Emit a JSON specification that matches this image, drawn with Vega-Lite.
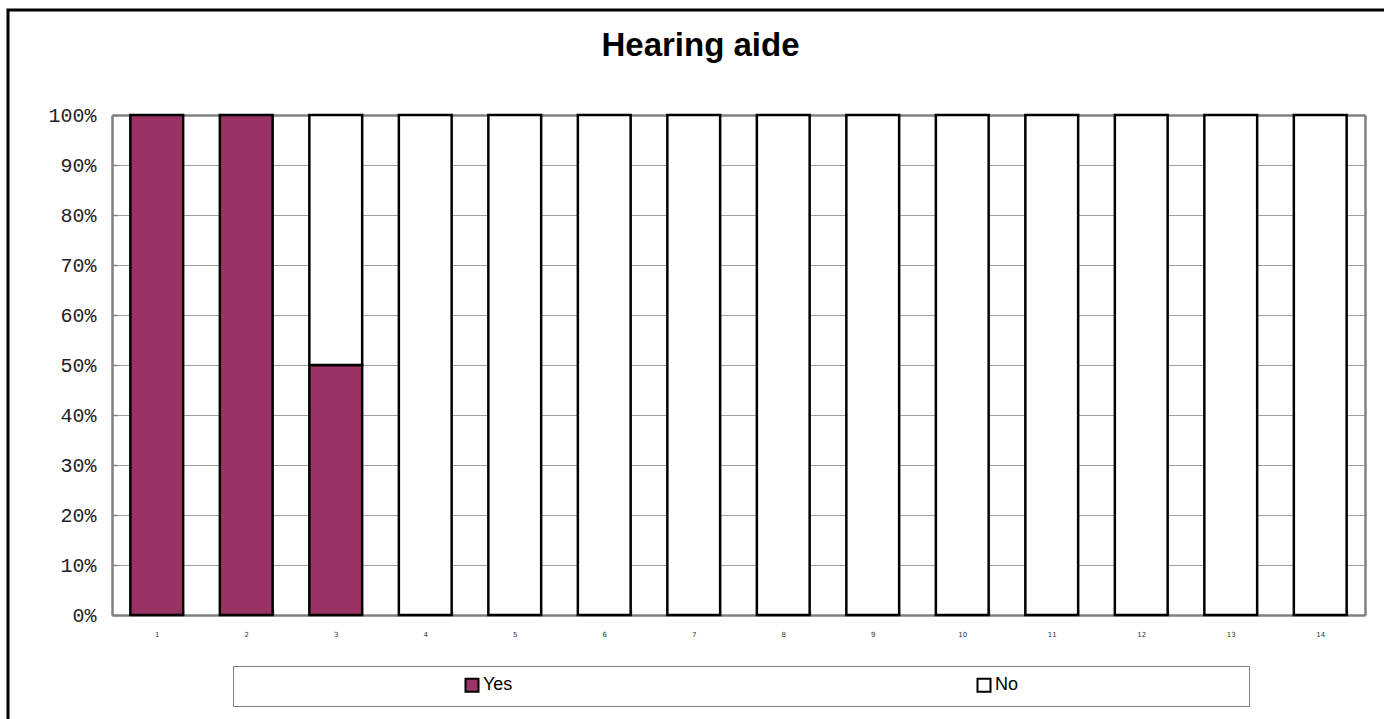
{
  "$schema": "https://vega.github.io/schema/vega-lite/v6.json",
  "width": 1385,
  "height": 720,
  "autosize": {"type": "none"},
  "padding": {"left": 8, "top": 10, "right": 0, "bottom": 0},
  "background": "white",
  "config": {
    "view": {"stroke": "black", "strokeWidth": 3, "fill": "white"}
  },
  "title": {
    "text": "Hearing aide",
    "font": "Liberation Sans",
    "fontSize": 33,
    "fontWeight": "bold",
    "color": "black",
    "anchor": "middle",
    "frame": "group",
    "baseline": "alphabetic",
    "offset": -79
  },
  "data": {
    "values": [
      {"q": 1, "answer": "Yes", "count": 1},
      {"q": 2, "answer": "Yes", "count": 1},
      {"q": 3, "answer": "Yes", "count": 1},
      {"q": 3, "answer": "No", "count": 1},
      {"q": 4, "answer": "No", "count": 1},
      {"q": 5, "answer": "No", "count": 1},
      {"q": 6, "answer": "No", "count": 1},
      {"q": 7, "answer": "No", "count": 1},
      {"q": 8, "answer": "No", "count": 1},
      {"q": 9, "answer": "No", "count": 1},
      {"q": 10, "answer": "No", "count": 1},
      {"q": 11, "answer": "No", "count": 1},
      {"q": 12, "answer": "No", "count": 1},
      {"q": 13, "answer": "No", "count": 1},
      {"q": 14, "answer": "No", "count": 1}
    ]
  },
  "layer": [
    {
      "mark": {"type": "bar", "stroke": "black", "strokeWidth": 2.5},
      "encoding": {
        "x": {
          "field": "q",
          "type": "ordinal",
          "scale": {"range": [104, 1357], "paddingInner": 0.41, "paddingOuter": 0.205},
          "axis": {
            "orient": "bottom",
            "offset": -115,
            "title": null,
            "labelAngle": 0,
            "tickBand": "extent",
            "tickSize": -5,
            "tickColor": "#808080",
            "tickWidth": 1.5,
            "domainColor": "#808080",
            "domainWidth": 2.5,
            "labelFont": "DejaVu Sans",
            "labelFontSize": 7,
            "labelColor": "#333333",
            "labelPadding": 20,
            "grid": false
          }
        },
        "y": {
          "field": "count",
          "type": "quantitative",
          "stack": "normalize",
          "scale": {"range": [605, 105]},
          "axis": {
            "orient": "left",
            "offset": -104,
            "title": null,
            "format": "%",
            "values": [0, 0.1, 0.2, 0.3, 0.4, 0.5, 0.6, 0.7, 0.8, 0.9, 1],
            "grid": true,
            "gridColor": "#a0a0a0",
            "gridWidth": 1,
            "domainColor": "#808080",
            "domainWidth": 2.5,
            "tickColor": "#808080",
            "tickWidth": 1.5,
            "tickSize": -5,
            "labelFont": "Liberation Mono",
            "labelFontSize": 20,
            "labelColor": "#222222",
            "labelPadding": 21
          }
        },
        "color": {
          "field": "answer",
          "type": "nominal",
          "sort": ["Yes", "No"],
          "scale": {"domain": ["Yes", "No"], "range": ["#993366", "#ffffff"]},
          "legend": {
            "orient": "none",
            "legendX": 225,
            "legendY": 656,
            "direction": "horizontal",
            "title": " ",
            "titleOrient": "right",
            "titlePadding": 221,
            "padding": 10,
            "strokeColor": "#808080",
            "symbolType": "square",
            "symbolSize": 169,
            "symbolStrokeColor": "black",
            "symbolStrokeWidth": 2,
            "symbolOpacity": 1,
            "symbolOffset": 220,
            "labelOffset": 2,
            "labelFont": "Liberation Sans",
            "labelFontSize": 18,
            "labelColor": "black",
            "columnPadding": 242
          }
        }
      }
    },
    {
      "mark": {"type": "bar", "opacity": 0},
      "encoding": {
        "x": {
          "field": "q",
          "type": "ordinal",
          "axis": {
            "orient": "top",
            "offset": -105,
            "labels": false,
            "ticks": false,
            "grid": false,
            "title": null,
            "domainColor": "#808080",
            "domainWidth": 2.5
          }
        },
        "y": {
          "field": "count",
          "type": "quantitative",
          "stack": "normalize",
          "axis": {
            "orient": "right",
            "offset": -28,
            "labels": false,
            "ticks": false,
            "grid": false,
            "title": null,
            "domainColor": "#808080",
            "domainWidth": 2.5
          }
        }
      }
    }
  ],
  "resolve": {"axis": {"x": "independent", "y": "independent"}}
}
